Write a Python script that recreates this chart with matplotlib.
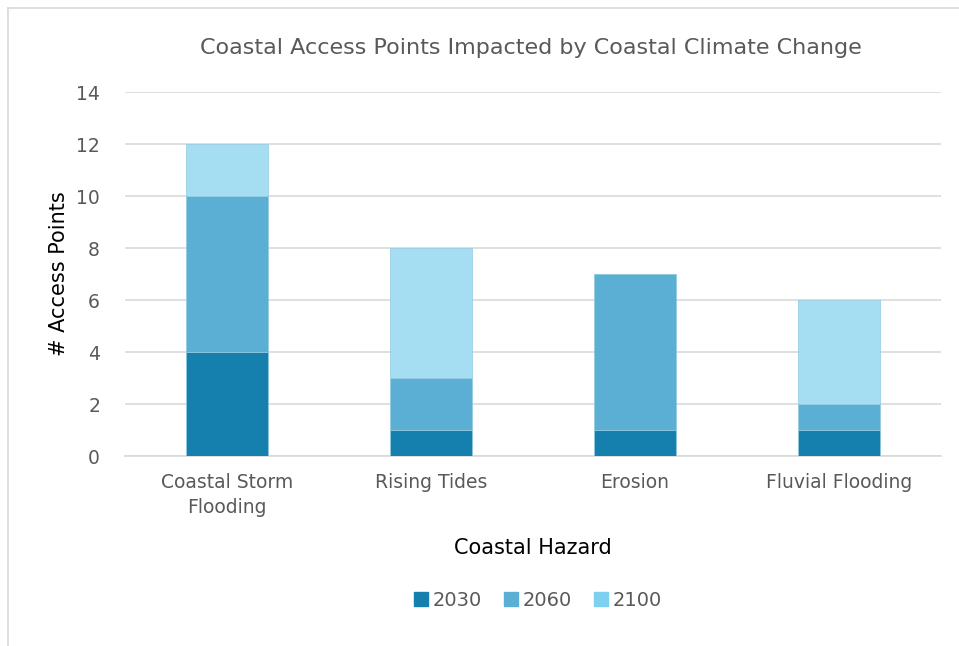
import matplotlib
matplotlib.use("Agg")
import matplotlib.pyplot as plt
from matplotlib.lines import Line2D
import numpy as np

plt.rcParams['font.family'] = ['DejaVu Sans']

categories = ["Coastal Storm\nFlooding", "Rising Tides", "Erosion", "Fluvial Flooding"]
years = ["2030", "2060", "2100"]
v2030 = [4, 1, 1, 1]
v2060 = [6, 2, 6, 1]
v2100 = [2, 5, 0, 4]
series = [v2030, v2060, v2100]
bar_colors = ["#1580AD", "#5CAFD4", "#A5DEF3"]
legend_colors = ["#1580AD", "#5CAFD4", "#7DD0F0"]
yticks = [0, 2, 4, 6, 8, 10, 12, 14]

fig = plt.figure(figsize=(9.59, 6.46), dpi=100)
ax = fig.add_axes([125 / 959, 1 - 456 / 646, 816 / 959, 364 / 646])

x = np.arange(len(categories))
bottom = np.zeros(len(categories))
for vals, col, lab in zip(series, bar_colors, years):
    ax.bar(x, vals, width=0.4, bottom=bottom, color=col, edgecolor="#8fc9e0",
           linewidth=0.5, label=lab, zorder=3)
    bottom += np.array(vals)

ax.set_xlim(-0.5, len(categories) - 0.5)
ax.set_ylim(0, 14)
ax.set_yticks(yticks)
ax.set_yticklabels([str(t) for t in yticks])
ax.set_xticks(x)
ax.set_xticklabels(categories, linespacing=1.45)
ax.grid(axis="y", color="#d9d9d9", linewidth=1.2, zorder=0)
for s in ["top", "right", "left"]:
    ax.spines[s].set_visible(False)
ax.spines["bottom"].set_color("#d9d9d9")
ax.spines["bottom"].set_linewidth(1.2)
ax.tick_params(axis="both", length=0, labelsize=13.5, labelcolor="#595959")
ax.tick_params(axis="y", pad=18)
ax.tick_params(axis="x", pad=12)

ax.set_ylabel("# Access Points", fontsize=15, color="black")
ax.yaxis.set_label_coords(-56 / 816, 0.5)
ax.set_xlabel("Coastal Hazard", fontsize=15, color="black", labelpad=15)
fig.text(531 / 959, 1 - 48 / 646, "Coastal Access Points Impacted by Coastal Climate Change",
         ha="center", va="center", fontsize=16, color="#595959")

handles = [Line2D([0], [0], marker="s", linestyle="none", markersize=10,
                  markerfacecolor=c, markeredgecolor=c) for c in legend_colors]
fig.legend(handles, years, loc="center", bbox_to_anchor=(536 / 959, 1 - 600 / 646),
           ncol=3, frameon=False, fontsize=14, handletextpad=0.0, columnspacing=0.9,
           handlelength=1.2, labelcolor="#595959")

# chart frame edges
fig.add_artist(Line2D([8 / 959, 8 / 959], [1 - 8 / 646, 0], transform=fig.transFigure,
                      color="#d9d9d9", linewidth=1.2))
fig.add_artist(Line2D([8 / 959, 1], [1 - 8 / 646, 1 - 8 / 646], transform=fig.transFigure,
                      color="#d9d9d9", linewidth=1.2))

fig.savefig("out.png", dpi=100)
